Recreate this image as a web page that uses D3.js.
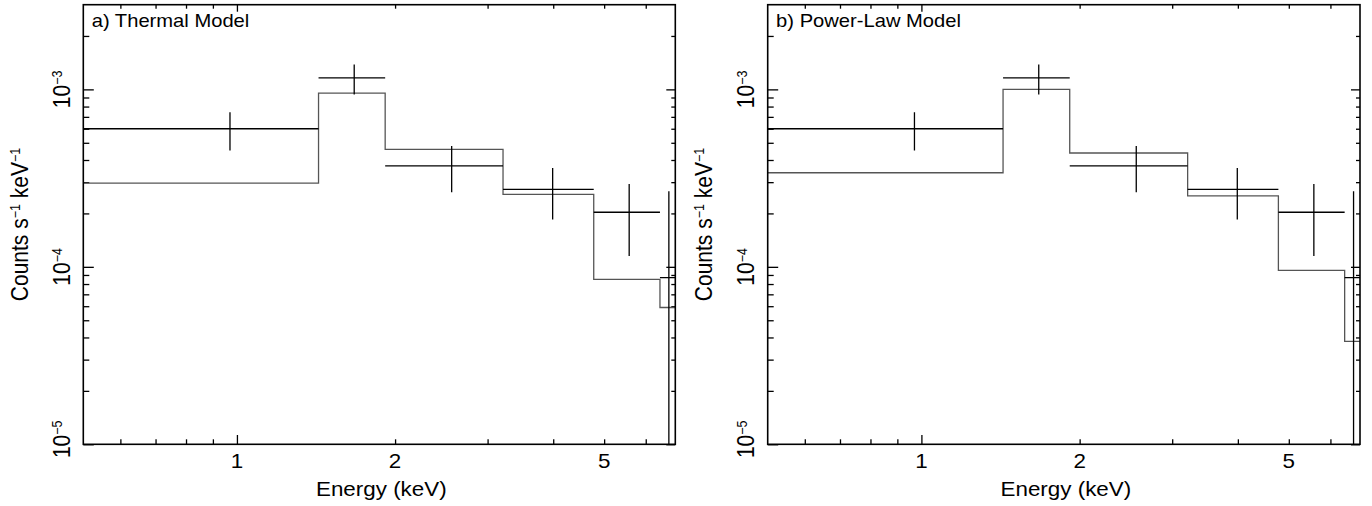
<!DOCTYPE html>
<html>
<head>
<meta charset="utf-8">
<script src="https://cdn.jsdelivr.net/npm/d3@7"></script>
<style>
  body { margin: 0; background: #fff; }
  svg { display: block; font-family: "Liberation Sans", Arial, Helvetica, sans-serif; }
</style>
</head>
<body>
<div class="canvas"></div>
<script>
// bin edges and data (counts s^-1 keV^-1)
const energyEdges = [0.5, 1.43, 1.915, 3.21, 4.777, 6.386, 6.89];
const energyMid = [0.97, 1.672, 2.563, 3.99, 5.58, 6.64];
const rate = [6.0e-4, 1.16e-3, 3.71e-4, 2.73e-4, 2.03e-4, 8.7e-5];
const rateHi = [7.42e-4, 1.38e-3, 4.80e-4, 3.60e-4, 2.93e-4, 2.67e-4];
const rateLo = [4.53e-4, 9.37e-4, 2.63e-4, 1.85e-4, 1.15e-4, 5e-6];

const thermalModel = [2.96e-4, 9.53e-4, 4.59e-4, 2.56e-4, 8.5e-5, 5.9e-5];
const powerLawModel = [3.39e-4, 1.0e-3, 4.38e-4, 2.51e-4, 9.56e-5, 3.8e-5];

const panelTitles = ['a) Thermal Model', 'b) Power-Law Model'];

const xMajorTicks = [1];
const xMinorTicks = [0.6, 0.7, 0.8, 0.9, 2, 3, 4, 5, 6];
const xTickLabels = [1, 2, 5];
const yMajorTicks = [1e-5, 1e-4, 1e-3];
const yMinorTicks = [2e-5, 3e-5, 4e-5, 5e-5, 6e-5, 7e-5, 8e-5, 9e-5,
                     2e-4, 3e-4, 4e-4, 5e-4, 6e-4, 7e-4, 8e-4, 9e-4, 2e-3];
const yTickExps = [-5, -4, -3];

const W = 1372, H = 506;
const plotTop = 4.7, plotBottom = 444.3;
const sx = 1.12; // the original is a little stretched sideways

const panels = [
    { title: panelTitles[0], model: thermalModel, left: 83.3, right: 675.3 },
    { title: panelTitles[1], model: powerLawModel, left: 767.7, right: 1360 }
];

const svg = d3.select('.canvas')
    .append('svg')
    .attr('width', W)
    .attr('height', H);

panels.forEach((p, pi) => {
    const x = d3.scaleLog().domain([0.51, 6.83]).range([p.left, p.right]);
    const y = d3.scaleLog().domain([1e-5, 3e-3]).range([plotBottom, plotTop]);

    const g = svg.append('g').attr('class', 'panel');

    svg.append('clipPath').attr('id', 'clip' + pi)
        .append('rect')
        .attr('x', p.left).attr('y', plotTop)
        .attr('width', p.right - p.left).attr('height', plotBottom - plotTop);

    // axes ticks (frame drawn separately)
    const tickAxis = (axis, tr) => {
        g.append('g')
            .attr('transform', tr)
            .call(axis)
            .call(a => a.select('.domain').remove())
            .call(a => a.selectAll('line').attr('stroke', '#000').attr('stroke-width', 1.3));
    };
    tickAxis(d3.axisBottom(x).tickValues(xMinorTicks).tickSize(-5).tickFormat(''), `translate(0,${plotBottom})`);
    tickAxis(d3.axisBottom(x).tickValues(xMajorTicks).tickSize(-9.3).tickFormat(''), `translate(0,${plotBottom})`);
    tickAxis(d3.axisTop(x).tickValues(xMinorTicks).tickSize(-4).tickFormat(''), `translate(0,${plotTop})`);
    tickAxis(d3.axisTop(x).tickValues(xMajorTicks).tickSize(-7).tickFormat(''), `translate(0,${plotTop})`);
    tickAxis(d3.axisLeft(y).tickValues(yMinorTicks).tickSize(-6).tickFormat(''), `translate(${p.left},0)`);
    tickAxis(d3.axisLeft(y).tickValues(yMajorTicks).tickSize(-10.5).tickFormat(''), `translate(${p.left},0)`);
    tickAxis(d3.axisRight(y).tickValues(yMinorTicks).tickSize(-4).tickFormat(''), `translate(${p.right},0)`);
    tickAxis(d3.axisRight(y).tickValues(yMajorTicks).tickSize(-9).tickFormat(''), `translate(${p.right},0)`);

    const plot = g.append('g').attr('clip-path', `url(#clip${pi})`);

    // model step line
    const stepPts = p.model.map((v, i) => [energyEdges[i], v]);
    stepPts.push([energyEdges[energyEdges.length - 1], p.model[p.model.length - 1]]);
    plot.append('path')
        .attr('d', d3.line().x(d => x(d[0])).y(d => y(d[1])).curve(d3.curveStepAfter)(stepPts))
        .attr('fill', 'none')
        .attr('stroke', '#555')
        .attr('stroke-width', 1.3);

    // data crosses
    const crosses = plot.selectAll('g.cross')
        .data(rate.map((r, i) => ({ r, i })))
        .enter().append('g').attr('class', 'cross');
    crosses.append('line')
        .attr('x1', d => x(energyEdges[d.i])).attr('x2', d => x(energyEdges[d.i + 1]))
        .attr('y1', d => y(d.r)).attr('y2', d => y(d.r));
    crosses.append('line')
        .attr('x1', d => x(energyMid[d.i])).attr('x2', d => x(energyMid[d.i]))
        .attr('y1', d => y(rateHi[d.i])).attr('y2', d => y(rateLo[d.i]));
    crosses.selectAll('line').attr('stroke', '#000').attr('stroke-width', 1.3);

    // frame
    g.append('rect')
        .attr('x', p.left).attr('y', plotTop)
        .attr('width', p.right - p.left).attr('height', plotBottom - plotTop)
        .attr('fill', 'none').attr('stroke', '#000').attr('stroke-width', 1.6);

    // x tick labels
    xTickLabels.forEach(v => {
        g.append('text')
            .attr('transform', `translate(${x(v)},468.3) scale(${sx},1)`)
            .attr('text-anchor', 'middle')
            .attr('font-size', 20)
            .text(v);
    });

    // x axis label
    g.append('text')
        .attr('transform', `translate(${(p.left + p.right) / 2 + 2},495.5) scale(${sx},1)`)
        .attr('text-anchor', 'middle')
        .attr('font-size', 20)
        .text('Energy (keV)');

    // y tick labels 10^n
    yMajorTicks.forEach((v, i) => {
        const t = g.append('text')
            .attr('transform', `translate(${p.left - 13.3},${y(v) - (i === 0 ? 5 : 0)}) rotate(-90) scale(1,${sx})`)
            .attr('text-anchor', 'middle')
            .attr('font-size', 21);
        t.append('tspan').text('10');
        t.append('tspan').attr('font-size', 12.5).attr('dy', -7).text('−' + Math.abs(yTickExps[i]));
    });

    // y axis label
    const yl = g.append('text')
        .attr('transform', `translate(${p.left - 55.5},${(plotTop + plotBottom) / 2}) rotate(-90) scale(1,${sx})`)
        .attr('text-anchor', 'middle')
        .attr('font-size', 21);
    yl.append('tspan').text('Counts s');
    yl.append('tspan').attr('font-size', 12.5).attr('dy', -7).text('−1');
    yl.append('tspan').attr('dy', 7).text(' keV');
    yl.append('tspan').attr('font-size', 12.5).attr('dy', -7).text('−1');

    // panel title
    g.append('text')
        .attr('transform', `translate(${p.left + 8.4},26.7) scale(${sx},1)`)
        .attr('font-size', 18)
        .text(p.title);
});
</script>
</body>
</html>
